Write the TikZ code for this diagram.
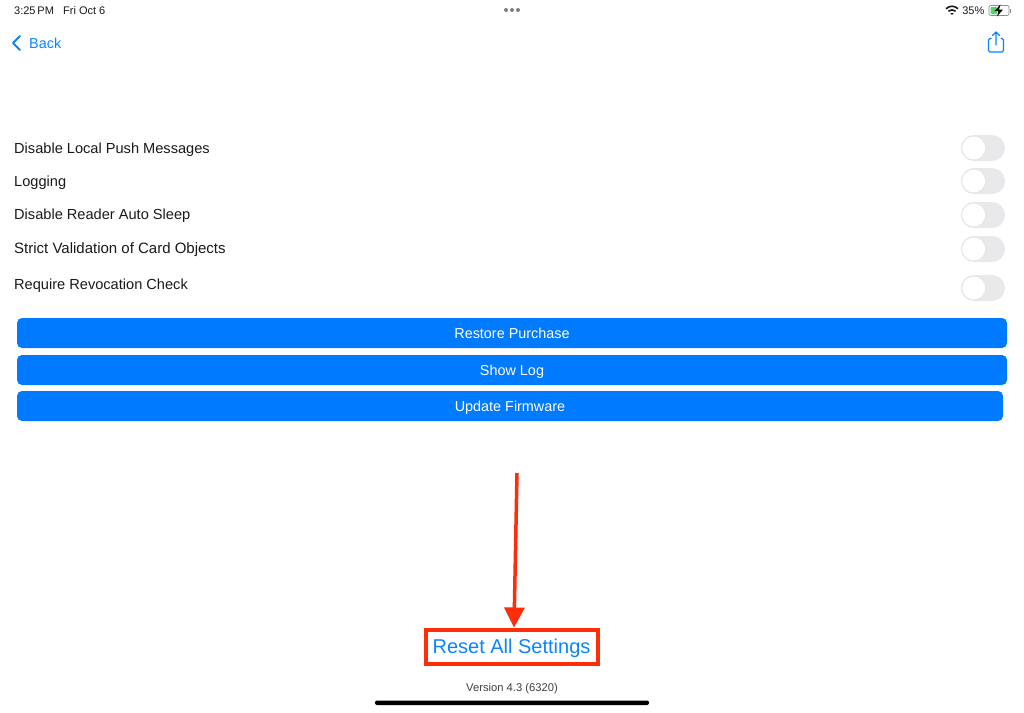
\documentclass[tikz,border=0pt]{standalone}
\usepackage{fontspec}
\setmainfont{Liberation Sans}
\usetikzlibrary{arrows.meta,positioning}
\definecolor{iosblue}{HTML}{007AFF}
\definecolor{linkblue}{HTML}{0A84FF}
\definecolor{markred}{HTML}{FF2D0A}
\definecolor{trackgray}{HTML}{E9E9EB}
\definecolor{labelink}{HTML}{1A1A1A}
\definecolor{chargegreen}{HTML}{4CD964}

\begin{document}
\begin{tikzpicture}[
        x=1pt,y=-1pt,
        % Environment Config
        RowLabel/.style={% Style for the setting rows
          anchor=base west,
          inner sep=0pt,
          text=labelink,
          font=\fontsize{14.6}{16}\selectfont
        },
        BlueButton/.style={% Style for the wide buttons
          fill=iosblue,
          rounded corners=5pt,
          text=white,
          text height=12pt,
          text depth=2pt,
          minimum height=30pt,
          inner sep=0pt,
          font=\fontsize{14.4}{16}\selectfont
        },
        StatusText/.style={% Style for the status bar
          inner sep=0pt,
          text=labelink,
          font=\fontsize{11}{12}\selectfont
        },
        Track/.style={% Style for the switch body
          fill=trackgray,
          rounded corners=13pt,
          minimum width=44pt,
          minimum height=26pt,
          inner sep=0pt
        },
        Knob/.style={% Style for the switch knob
          circle,
          fill=white,
          draw=black!10,
          line width=0.8pt,
          minimum size=24pt,
          inner sep=0pt
        },
        MarkArrow/.style={% Style for the red arrow
          -{Triangle[length=20pt,width=20pt]},
          markred,
          line width=3.5pt
        }
      ]

      \useasboundingbox (0,0) rectangle (1024,712);
      \fill[white] (0,0) rectangle (1024,712);

      \def\MyToggle(#1)#2{% Custom switch
        \node[Track] (#2 track) at (#1) {};
        \node[Knob,right=0pt of #2 track.west,xshift=0.5pt] (#2 knob) {};
      }

      % Status bar
      \node[StatusText,anchor=base west] (clock) at (14,14) {3:25\,PM};
      \node[StatusText,anchor=base west] (date) at (63,14) {Fri Oct 6};
      \node[StatusText,anchor=base east] (charge) at (984.5,14) {35\%};
      \foreach \i in {506,512,518}
        \fill[black!50] (\i,10) circle (2pt);

      %===Wifi===
      \begin{scope}[shift={(952,6)}]
        \draw[labelink,line width=1.6pt] (-6,2.8) .. controls (-2.5,-0.6) and (2.5,-0.6) .. (6,2.8);
        \draw[labelink,line width=1.6pt] (-3.6,5.2) .. controls (-1.5,3.4) and (1.5,3.4) .. (3.6,5.2);
        \fill[labelink] (-1.8,7) -- (1.8,7) -- (0,9) -- cycle;
      \end{scope}

      %===Battery===
      \draw[black!45,line width=0.7pt,rounded corners=2pt] (989,5.5) rectangle (1009,15.5);
      \fill[black!45] (1010,8.5) rectangle (1011,12.5);
      \fill[chargegreen,rounded corners=1pt] (990.5,7) rectangle (997,14);
      \fill[black] (1000.5,4.5) -- (994.5,11) -- (998.5,11) -- (997,16.5) -- (1003,9.5) -- (999,9.5) -- cycle;

      % Navigation bar
      \draw[linkblue,line width=2pt,line cap=round,line join=round]
        (20,36) -- (13,43) -- (20,50);
      \node[anchor=base west,inner sep=0pt,text=linkblue,font=\fontsize{14.4}{16}\selectfont] (back) at (29,48) {Back};

      %===Share===
      \draw[linkblue,line width=1.1pt,rounded corners=1.5pt]
        (991.5,38.5) -- (988.5,38.5) -- (988.5,52) -- (1003.5,52) -- (1003.5,38.5) -- (1000.5,38.5);
      \draw[linkblue,line width=1.1pt,line cap=round,line join=round]
        (996,45) -- (996,32) (992.5,35.5) -- (996,32) -- (999.5,35.5);

      % Put the setting rows in position
      \node[RowLabel] (pushLabel) at (14,153) {Disable Local Push Messages};
      \node[RowLabel] (logLabel) at (14,186) {Logging};
      \node[RowLabel] (sleepLabel) at (14,219.5) {Disable Reader Auto Sleep};
      \node[RowLabel,font=\fontsize{15}{16}\selectfont] (strictLabel) at (14,253) {Strict Validation of Card Objects};
      \node[RowLabel] (revokeLabel) at (14,289) {Require Revocation Check};

      \MyToggle(983,148){push}
      \MyToggle(983,181){log}
      \MyToggle(983,215){sleep}
      \MyToggle(983,249){strict}
      \MyToggle(983,288){revoke}

      % Put the buttons in position
      \node[BlueButton,minimum width=990pt] (restore) at (512,333) {Restore Purchase};
      \node[BlueButton,minimum width=990pt] (showLog) at (512,370) {Show Log};
      \node[BlueButton,minimum width=986pt] (firmware) at (510,406) {Update Firmware};

      % Bottom part
      \node[draw=markred,line width=4pt,minimum width=172pt,minimum height=34pt,inner sep=0pt,
        text height=16pt,text depth=3pt,
        text=linkblue,font=\fontsize{20}{24}\selectfont] (reset) at (511.5,646.5) {Reset All Settings};
      \coordinate (arrowStart) at (517,473);
      \draw[MarkArrow] (arrowStart) -- (reset.north -| 514,0);

      \node[inner sep=0pt,text=black!75,text height=8pt,text depth=2pt,font=\fontsize{11.2}{12}\selectfont] (version) at (512,688) {Version 4.3 (6320)};
      \fill[black,rounded corners=2pt] (375,700.5) rectangle (649,705);

      \end{tikzpicture}
\end{document}
